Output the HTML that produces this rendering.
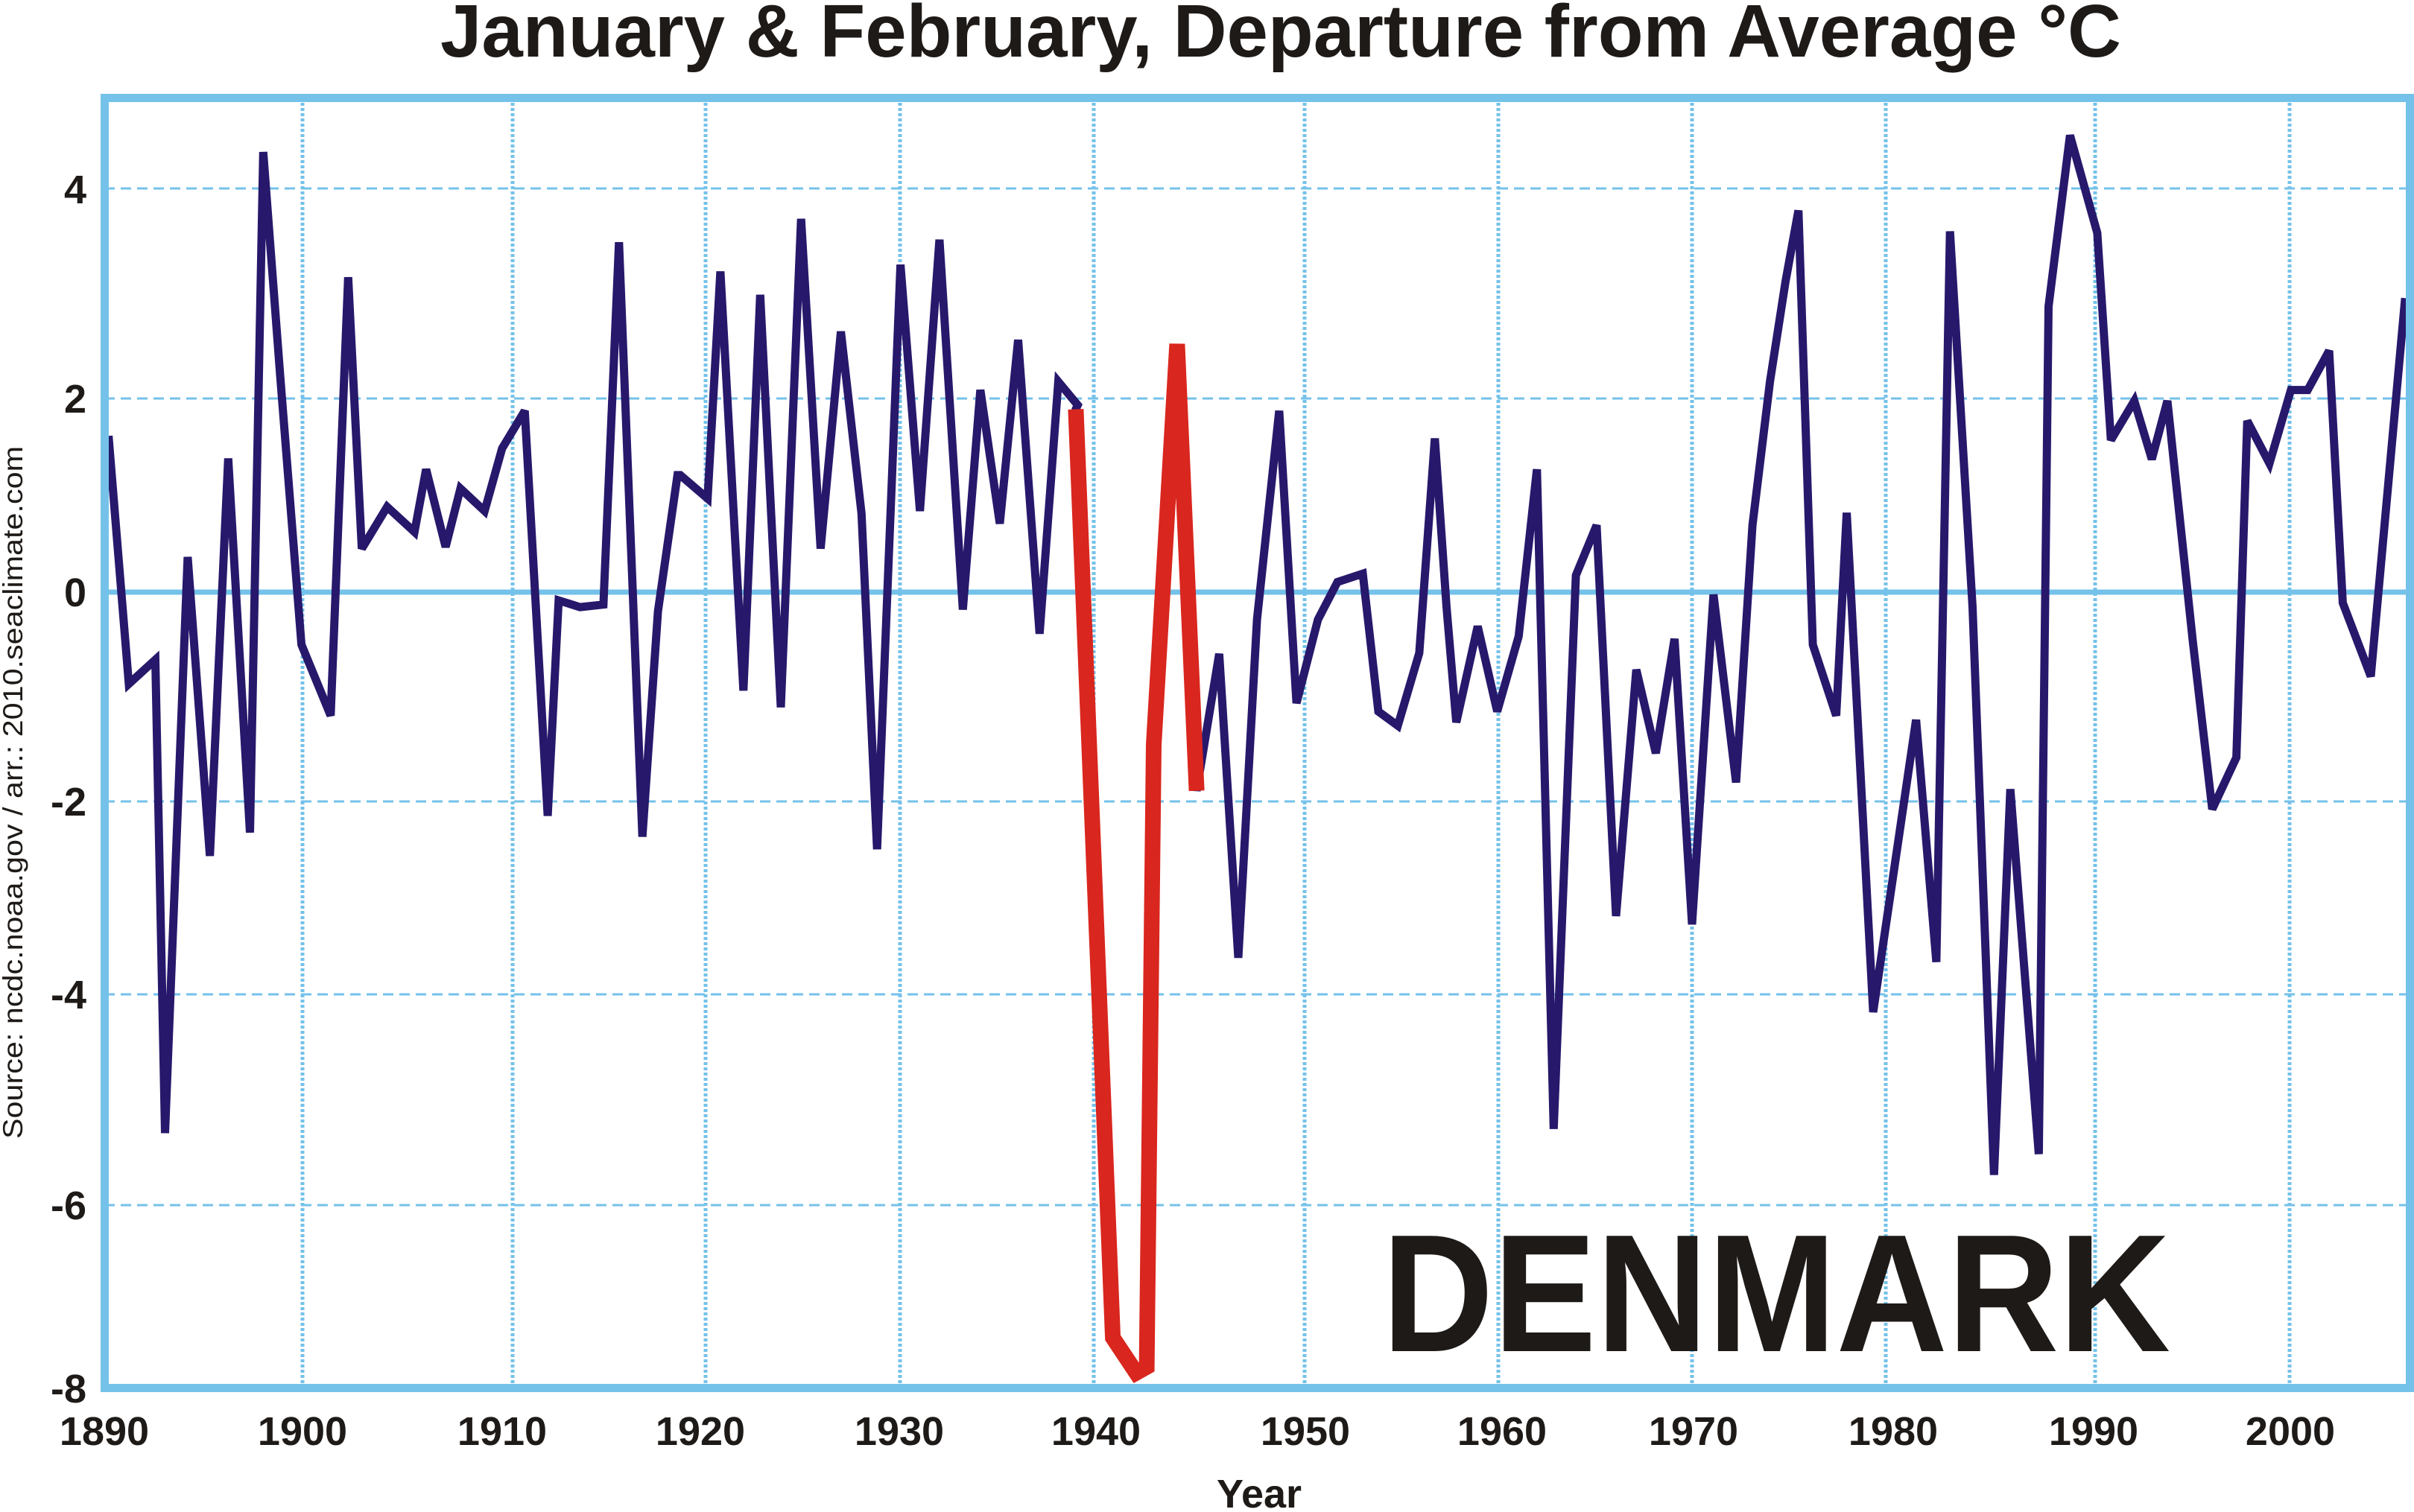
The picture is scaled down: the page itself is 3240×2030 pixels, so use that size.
<!DOCTYPE html>
<html><head><meta charset="utf-8">
<style>html,body{margin:0;padding:0;background:#fff}svg{display:block}</style>
</head><body>
<svg id="s" width="3240" height="2030" viewBox="0 0 3240 2030" xmlns="http://www.w3.org/2000/svg" font-family="Liberation Sans, Arial, sans-serif">
<rect width="3240" height="2030" fill="#fff"/>
<g id="grid"></g>
<line x1="140" y1="795" x2="3236" y2="795" stroke="#74c2ea" stroke-width="7"/>
<polyline id="blue" fill="none" stroke="#27186b" stroke-width="11" stroke-linejoin="miter" stroke-miterlimit="3"/>
<polyline id="red" fill="none" stroke="#d9261e" stroke-width="21" stroke-linejoin="miter" stroke-miterlimit="3"/>
<rect x="140.5" y="131.5" width="3094" height="1732" fill="none" stroke="#74c2ea" stroke-width="11"/>
<text x="1719" y="76" font-size="100" font-weight="bold" text-anchor="middle" fill="#1e1a17" textLength="2256" lengthAdjust="spacingAndGlyphs">January &amp; February, Departure from Average °C</text>
<g font-size="54" font-weight="bold" fill="#1e1a17" text-anchor="end">
<text x="116" y="273">4</text>
<text x="116" y="554">2</text>
<text x="116" y="814">0</text>
<text x="116" y="1095">-2</text>
<text x="116" y="1354">-4</text>
<text x="116" y="1637">-6</text>
<text x="116" y="1883">-8</text>
</g>
<g font-size="54" font-weight="bold" fill="#1e1a17" text-anchor="middle">
<text x="140" y="1940">1890</text>
<text x="406" y="1940">1900</text>
<text x="674" y="1940">1910</text>
<text x="940" y="1940">1920</text>
<text x="1207" y="1940">1930</text>
<text x="1471" y="1940">1940</text>
<text x="1752" y="1940">1950</text>
<text x="2016" y="1940">1960</text>
<text x="2273" y="1940">1970</text>
<text x="2541" y="1940">1980</text>
<text x="2810" y="1940">1990</text>
<text x="3074" y="1940">2000</text>
<text x="1690" y="2024">Year</text>
</g>
<text transform="translate(30,1064) rotate(-90)" font-size="37" text-anchor="middle" fill="#1e1a17" textLength="930" lengthAdjust="spacingAndGlyphs">Source: ncdc.noaa.gov / arr.: 2010.seaclimate.com</text>
<text x="1855" y="1814" font-size="225" font-weight="bold" fill="#1e1a17" textLength="1058" lengthAdjust="spacingAndGlyphs">DENMARK</text>
</svg>
<script>
var NS="http://www.w3.org/2000/svg";
var g=document.getElementById("grid");
function ln(x1,y1,x2,y2,da,w){var l=document.createElementNS(NS,"line");l.setAttribute("x1",x1);l.setAttribute("y1",y1);l.setAttribute("x2",x2);l.setAttribute("y2",y2);l.setAttribute("stroke","#74c2ea");l.setAttribute("stroke-width",w);l.setAttribute("stroke-dasharray",da);g.appendChild(l);}
[253,535,1076,1335,1618].forEach(function(y){ln(140,y,3236,y,"14 8",3);});
[406,688,947,1208,1468,1751,2011,2271,2531,2812,3073].forEach(function(x){ln(x,131,x,1864,"4 3",5);});
function conv(x0,pts){return pts.map(function(p){return (x0+p[0]/1.912).toFixed(1)+","+(120+p[1]/0.892).toFixed(1);});}
var b=[];
b=b.concat(conv(130,[[30,415],[82,712],[150,683],[175,1250],[233,560],[290,918],[337,442],[393,890],[427,75],[470,340],[525,665],[600,750],[645,225],[680,550],[745,500],[815,530],[845,455],[895,548],[933,478],[995,505],[1040,430],[1098,385],[1157,870],[1185,612],[1240,620],[1300,617],[1340,183],[1400,895],[1440,625],[1490,462]]));
b=b.concat(conv(900,[[25,462],[95,490],[128,218],[187,720],[230,246],[283,740],[335,155],[385,550],[437,290],[490,508],[530,910],[590,210],[640,505],[690,180],[750,623],[795,360],[845,520],[892,300],[947,652],[995,350],[1045,378]]));
var bl2=conv(900,[[1350,840],[1408,676],[1457,1040],[1505,635],[1562,385]]);
bl2=bl2.concat(conv(1680,[[115,735],[170,635],[220,590],[285,580],[325,745],[375,762],[430,675],[470,418],[500,620],[525,758],[580,643],[630,745],[685,655],[732,455],[775,1245],[832,582],[885,522],[935,990],[987,695],[1037,795],[1085,658],[1130,1000],[1185,605],[1243,830],[1285,522],[1330,350],[1370,230],[1403,145],[1440,665],[1500,750],[1527,507]]));
bl2=bl2.concat(conv(2420,[[180,1105],[290,755],[342,1045],[377,170],[435,620],[490,1300],[532,838],[605,1275],[630,260],[685,55],[755,172],[790,420],[850,373],[895,443],[935,373],[1000,660],[1050,862],[1112,800],[1140,397],[1197,448],[1252,360],[1295,360],[1350,313],[1385,615],[1457,703],[1545,250]]));
var r=conv(900,[[1040,383],[1135,1495],[1195,1537],[1222,1530],[1240,785],[1300,305],[1350,840]]);
document.getElementById("blue").setAttribute("points",b.concat(r).concat(bl2).join(" "));
document.getElementById("red").setAttribute("points",r.join(" "));
</script>
</body></html>
